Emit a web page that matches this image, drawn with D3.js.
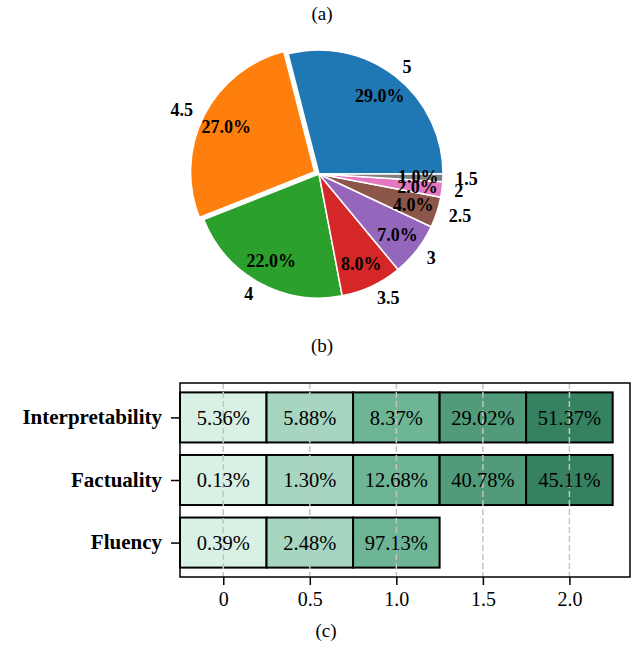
<!DOCTYPE html>
<html>
<head>
<meta charset="utf-8">
<script src="https://cdn.jsdelivr.net/npm/d3@7"></script>
<style>
  html, body { margin: 0; padding: 0; background: #fff; }
  svg { display: block; font-family: "Liberation Serif", "Times New Roman", serif; }
</style>
</head>
<body>
<svg id="chart" width="637" height="651"></svg>
<script>
// ---- Pie: score distribution ----
const pieLabels = ["5", "4.5", "4", "3.5", "3", "2.5", "2", "1.5"];
const pieValues = [29, 27, 22, 8, 7, 4, 2, 1];
const pieColors = ["#1f77b4", "#ff7f0e", "#2ca02c", "#d62728", "#9467bd", "#8c564b", "#e377c2", "#7f7f7f"];
const pieExplode = [0, 0.04, 0, 0, 0, 0, 0, 0];

// ---- Stacked segments: rating shares per aspect ----
const categories = ["Interpretability", "Factuality", "Fluency"];
const interpretability = [5.36, 5.88, 8.37, 29.02, 51.37];
const factuality = [0.13, 1.30, 12.68, 40.78, 45.11];
const fluency = [0.39, 2.48, 97.13];
const seriesValues = [interpretability, factuality, fluency];
const segmentColors = ["#d9f1e5", "#a6d6c0", "#6db595", "#519b7a", "#368160"];
const xTickValues = [0, 0.5, 1.0, 1.5, 2.0];
const xTickLabels = ["0", "0.5", "1.0", "1.5", "2.0"];

const svg = d3.select("#chart");

// Panel captions
const captions = [["(a)", 322, 20], ["(b)", 322, 352], ["(c)", 326, 637]];
svg.selectAll("text.caption").data(captions).join("text")
  .attr("class", "caption")
  .attr("x", d => d[1]).attr("y", d => d[2])
  .attr("text-anchor", "middle")
  .attr("font-size", 19)
  .text(d => d[0]);

// ---------- Pie ----------
const cx = 319, cy = 174, R = 124;
const pieG = svg.append("g").attr("transform", `translate(${cx},${cy})`);

// counter-clockwise from 3 o'clock
const pie = d3.pie().sort(null)
  .startAngle(Math.PI / 2)
  .endAngle(Math.PI / 2 - 2 * Math.PI);
const arcs = pie(pieValues);
const arcGen = d3.arc().innerRadius(0).outerRadius(R);
const mid = a => (a.startAngle + a.endAngle) / 2;
const polar = (r, ang) => [r * Math.sin(ang), -r * Math.cos(ang)];

const slices = arcs.map((a, i) => {
  const off = polar(pieExplode[i] * R, mid(a));
  return { a, i, off };
});

pieG.selectAll("path.slice").data(slices).join("path")
  .attr("class", "slice")
  .attr("transform", d => `translate(${d.off[0]},${d.off[1]})`)
  .attr("d", d => arcGen({ startAngle: Math.min(d.a.startAngle, d.a.endAngle), endAngle: Math.max(d.a.startAngle, d.a.endAngle) }))
  .attr("fill", d => pieColors[d.i])
  .attr("stroke", "#fff")
  .attr("stroke-width", 1.5)
  .attr("stroke-linejoin", "round");

const total = d3.sum(pieValues);

// percentages inside
pieG.selectAll("text.pct").data(slices).join("text")
  .attr("class", "pct")
  .attr("x", d => polar(0.8 * R, mid(d.a))[0] + d.off[0])
  .attr("y", d => polar(0.8 * R, mid(d.a))[1] + d.off[1])
  .attr("dy", "0.35em")
  .attr("text-anchor", "middle")
  .attr("font-size", 18)
  .attr("font-weight", "bold")
  .text(d => (pieValues[d.i] / total * 100).toFixed(1) + "%");

// category labels outside
pieG.selectAll("text.lbl").data(slices).join("text")
  .attr("class", "lbl")
  .attr("x", d => polar(1.1 * R, mid(d.a))[0] + d.off[0])
  .attr("y", d => polar(1.1 * R, mid(d.a))[1] + d.off[1])
  .attr("dy", "0.35em")
  .attr("text-anchor", d => polar(1, mid(d.a))[0] >= 0 ? "start" : "end")
  .attr("font-size", 18)
  .attr("font-weight", "bold")
  .text(d => pieLabels[d.i]);

// ---------- Stacked horizontal segments ----------
const box = { left: 180, right: 630, top: 383, bottom: 577 };
const x = d3.scaleLinear().domain([-0.25, 2.35]).range([box.left, box.right]);
const y = d3.scaleLinear().domain([-0.55, 2.55]).range([box.bottom, box.top]);
const rowPos = i => categories.length - 1 - i; // first category on top
const segWidth = 0.5, barHeight = 0.8;

const segs = [];
seriesValues.forEach((vals, r) => vals.forEach((v, k) => segs.push({ r, k, v })));

svg.append("g").selectAll("rect").data(segs).join("rect")
  .attr("x", d => x(d.k * segWidth - segWidth / 2))
  .attr("width", d => x(d.k * segWidth + segWidth / 2) - x(d.k * segWidth - segWidth / 2))
  .attr("y", d => y(rowPos(d.r) + barHeight / 2))
  .attr("height", d => y(rowPos(d.r) - barHeight / 2) - y(rowPos(d.r) + barHeight / 2))
  .attr("fill", d => segmentColors[d.k])
  .attr("stroke", "#000")
  .attr("stroke-width", 2);

// dashed vertical grid
svg.append("g").selectAll("line").data(xTickValues).join("line")
  .attr("x1", d => x(d)).attr("x2", d => x(d))
  .attr("y1", box.top).attr("y2", box.bottom)
  .attr("stroke", "#c4c4c4")
  .attr("stroke-width", 1.5)
  .attr("stroke-dasharray", "6,3");

svg.append("g").selectAll("text").data(segs).join("text")
  .attr("x", d => x(d.k * segWidth))
  .attr("y", d => y(rowPos(d.r)))
  .attr("dy", "0.35em")
  .attr("text-anchor", "middle")
  .attr("font-size", 20.5)
  .text(d => d.v.toFixed(2) + "%");

// frame
svg.append("rect")
  .attr("x", box.left).attr("y", box.top)
  .attr("width", box.right - box.left).attr("height", box.bottom - box.top)
  .attr("fill", "none").attr("stroke", "#000").attr("stroke-width", 1.5);

// axes
const xAxis = d3.axisBottom(x).tickValues(xTickValues)
  .tickFormat((d, i) => xTickLabels[i]).tickSizeOuter(0).tickSize(8).tickPadding(7);
const xg = svg.append("g").attr("transform", `translate(0,${box.bottom})`).call(xAxis);
xg.select(".domain").remove();
xg.selectAll("line").attr("stroke", "#000").attr("stroke-width", 1.5);
xg.selectAll("text").attr("font-size", 20).attr("font-family", "Liberation Serif, serif").attr("fill", "#000");

const yAxis = d3.axisLeft(y).tickValues(categories.map((c, i) => rowPos(i)))
  .tickFormat(d => categories[categories.length - 1 - d]).tickSizeOuter(0).tickSize(9).tickPadding(9);
const yg = svg.append("g").attr("transform", `translate(${box.left},0)`).call(yAxis);
yg.select(".domain").remove();
yg.selectAll("line").attr("stroke", "#000").attr("stroke-width", 1.5);
yg.selectAll("text").attr("font-size", 21).attr("font-weight", "bold")
  .attr("font-family", "Liberation Serif, serif").attr("fill", "#000").attr("dy", "0.3em");
</script>
</body>
</html>
